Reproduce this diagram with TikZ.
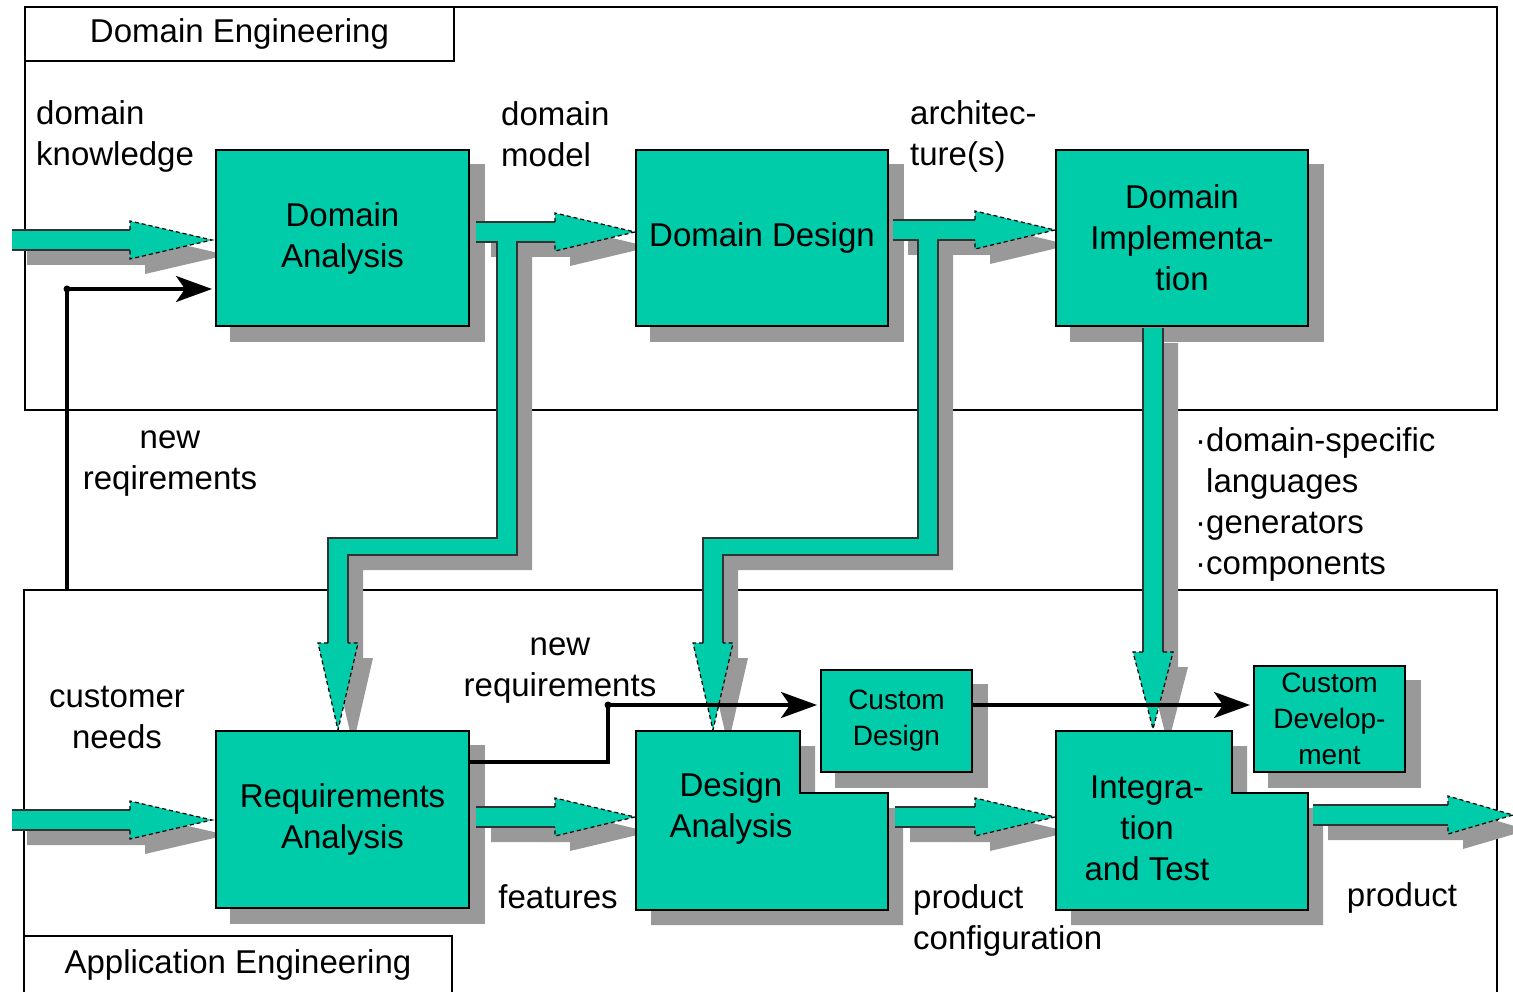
\documentclass[tikz,border=0pt]{standalone}
\usepackage{fontspec}
\setmainfont{Liberation Sans}
\usetikzlibrary{arrows.meta}
\definecolor{tealbox}{HTML}{00CCAA}
\definecolor{shadegray}{HTML}{999999}
\pgfdeclarelayer{back}
\pgfdeclarelayer{fat}
\pgfsetlayers{back,fat,main}
\tikzset{
    dom-box/.style = {draw=black, fill=tealbox, line width=2pt, rectangle, inner sep=0pt, align=center, font=\fontsize{33}{41}\selectfont},
    small-box/.style = {dom-box, font=\fontsize{28}{36}\selectfont},
    l-box/.style = {draw=black, fill=tealbox, line width=2pt},
    shade-fill/.style = {fill=shadegray},
    fat-fill/.style = {fill=tealbox},
    fat-edge/.style = {draw=black!80, line width=1.3pt},
    fat-head/.style = {draw=black, line width=1.2pt, dash pattern=on 4pt off 3pt},
    frame-line/.style = {draw=black, line width=1.6pt},
    thin-arrow/.style = {draw=black, line width=3.2pt, -{Stealth[length=36pt,width=26pt,inset=9pt]}, shorten >=3pt},
    label-text/.style = {font=\fontsize{33}{41}\selectfont, inner sep=0pt},
}

\begin{document}
\begin{tikzpicture}[x=1pt, y=-1pt]
\useasboundingbox (0,0) rectangle (1513,992);

\node[dom-box, minimum width=253pt, minimum height=176pt] (da) at (342.5,238) {Domain\\Analysis};
\node[dom-box, minimum width=252pt, minimum height=176pt] (dd) at (762,238) {Domain Design};
\node[dom-box, minimum width=252pt, minimum height=176pt] (di) at (1182,238) {Domain\\Implementa-\\tion};
\node[dom-box, minimum width=253pt, minimum height=177pt] (ra) at (342.5,819.5) {Requirements\\Analysis};
\node[small-box, minimum width=151pt, minimum height=102pt] (cd) at (896.5,721) {Custom\\Design};
\node[small-box, minimum width=151pt, minimum height=106pt] (cdev) at (1329.5,719) {Custom\\Develop-\\ment};

\draw[l-box] (636,731) -- (800,731) -- (800,793) -- (888,793) -- (888,910) -- (636,910) -- cycle;
\node[label-text, align=center] (dan) at (731,808) {Design\\Analysis};
\draw[l-box] (1056,731) -- (1232,731) -- (1232,793) -- (1308,793) -- (1308,910) -- (1056,910) -- cycle;
\node[label-text, align=center] (it) at (1147,828) {Integra-\\tion\\and Test};

\begin{pgfonlayer}{back}
\draw[frame-line] (25,7) rectangle (1497,410);
\draw[frame-line] (25,7) rectangle (454,61);
\draw[frame-line] (1497,994) -- (1497,590) -- (24,590) -- (24,994);
\draw[frame-line] (24,994) -- (24,936) -- (452,936) -- (452,994);
\foreach \n in {da,dd,di,ra,cd,cdev}
    \fill[shade-fill] ([shift={(15,15)}]\n.north west) rectangle ([shift={(15,15)}]\n.south east);
\fill[shade-fill, shift={(15,15)}] (636,731) -- (800,731) -- (800,793) -- (888,793) -- (888,910) -- (636,910) -- cycle;
\fill[shade-fill, shift={(15,15)}] (1056,731) -- (1232,731) -- (1232,793) -- (1308,793) -- (1308,910) -- (1056,910) -- cycle;
\end{pgfonlayer}

\node[label-text] (de-title) at (239.5,34) {Domain Engineering};
\node[label-text] (ae-title) at (238,965) {Application Engineering};

\begin{pgfonlayer}{fat}
\foreach \xa/\xb/\xc/\y in {12/130/212/240, 476/555/635/232, 893/975/1055/230, 12/130/212/820, 476/555/635/817, 895/975/1055/817, 1313/1448/1513/815} {
    \fill[shade-fill, shift={(15,15)}] (\xa,\y-10) -- (\xb,\y-10) -- (\xb,\y-19) -- (\xc,\y) -- (\xb,\y+19) -- (\xb,\y+10) -- (\xa,\y+10) -- cycle;
    \fill[fat-fill] (\xa,\y-10) -- (\xb,\y-10) -- (\xb,\y-19) -- (\xc,\y) -- (\xb,\y+19) -- (\xb,\y+10) -- (\xa,\y+10) -- cycle;
    \draw[fat-edge] (\xa,\y-10) -- (\xb,\y-10) (\xa,\y+10) -- (\xb,\y+10);
    \draw[fat-head] (\xb,\y-10) -- (\xb,\y-19) -- (\xc,\y) -- (\xb,\y+19) -- (\xb,\y+10);
}
\foreach \xr/\xl/\yt in {497/328/241, 918/703/239} {
    \fill[shade-fill, shift={(15,15)}] (\xr,\yt) -- (\xr,538) -- (\xl,538) -- (\xl,643) -- (\xl-10,643) -- (\xl+10,730) -- (\xl+30,643) -- (\xl+20,643) -- (\xl+20,555) -- (\xr+20,555) -- (\xr+20,\yt) -- cycle;
    \fill[fat-fill] (\xr,\yt) -- (\xr,538) -- (\xl,538) -- (\xl,643) -- (\xl-10,643) -- (\xl+10,730) -- (\xl+30,643) -- (\xl+20,643) -- (\xl+20,555) -- (\xr+20,555) -- (\xr+20,\yt) -- cycle;
    \draw[fat-edge] (\xr,\yt) -- (\xr,538) -- (\xl,538) -- (\xl,643) (\xl+20,643) -- (\xl+20,555) -- (\xr+20,555) -- (\xr+20,\yt);
    \draw[fat-head] (\xl,643) -- (\xl-10,643) -- (\xl+10,730) -- (\xl+30,643) -- (\xl+20,643);
}
\fill[shade-fill, shift={(15,15)}] (1143,328) -- (1143,652) -- (1133,652) -- (1153,729) -- (1173,652) -- (1163,652) -- (1163,328) -- cycle;
\fill[fat-fill] (1143,328) -- (1143,652) -- (1133,652) -- (1153,729) -- (1173,652) -- (1163,652) -- (1163,328) -- cycle;
\draw[fat-edge] (1143,328) -- (1143,652) (1163,652) -- (1163,328);
\draw[fat-head] (1143,652) -- (1133,652) -- (1153,729) -- (1173,652) -- (1163,652);
\end{pgfonlayer}

\coordinate (nr) at (67,590);
\draw[thin-arrow] (nr) |- (da.west |- 0,289);
\fill (67,289) circle (3.5);
\draw[thin-arrow] (ra.east |- 0,762) -| (608,705) -- (cd.west |- 0,705);
\fill (608,705) circle (3.5);
\draw[thin-arrow] (cd.east |- 0,705) -- (cdev.west |- 0,705);

\node[label-text, align=left, anchor=west] (dk) at (36,136) {domain\\knowledge};
\node[label-text, align=left, anchor=west] (dm) at (501,134) {domain\\model};
\node[label-text, align=left, anchor=west] (arch) at (910,136) {architec-\\ture(s)};
\node[label-text, align=center] (nr1) at (170,464) {new\\reqirements};
\node[label-text, align=left, anchor=west] (assets) at (1195,504) {·domain-specific\\\phantom{·}languages\\·generators\\·components};
\node[label-text, align=center] (cn) at (117,717) {customer\\needs};
\node[label-text, align=center] (nr2) at (560,671) {new\\requirements};
\node[label-text] (feat) at (558,897) {features};
\node[label-text, align=left, anchor=west] (pc) at (913,920) {product\\configuration};
\node[label-text] (prod) at (1402,898) {product};
\end{tikzpicture}
\end{document}
